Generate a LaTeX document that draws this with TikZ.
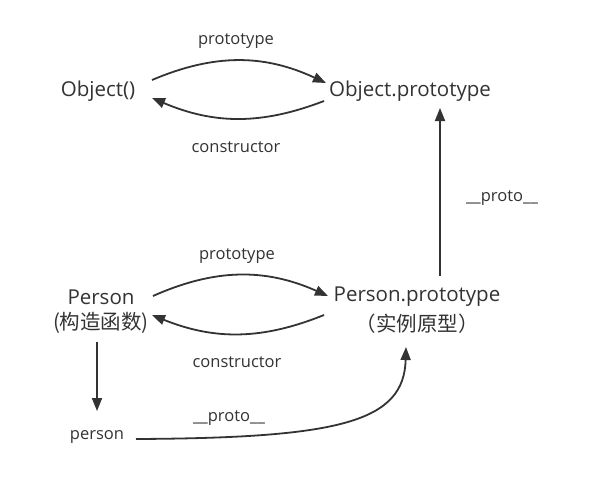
\documentclass[tikz,border=0pt]{standalone}
\usepackage{fontspec}
\setmainfont{Open Sans}
\newfontfamily\cjk{Noto Sans CJK SC}
\usetikzlibrary{arrows.meta}
\definecolor{ink}{HTML}{333333}
\tikzset{
  big/.style={font=\fontsize{20.5}{24}\selectfont, text=ink, inner sep=0pt, align=center},
  small/.style={font=\fontsize{16.5}{19}\selectfont, text=ink, inner sep=0pt},
  link/.style={draw=ink, line width=1.8pt, -{Triangle[length=13pt,width=10pt]}},
}
\begin{document}
\begin{tikzpicture}[x=1pt,y=-1pt]
\useasboundingbox[fill=white] (0,0) rectangle (590,477);

% top pair: Object and its prototype
\node[big] (obj) at (98,91) {Object()};
\node[big] (objp) at (410,91) {Object.prototype};
\node[small] (lp1) at (236,41) {prototype};
\node[small] (lc1) at (236,147) {constructor};

% lower pair: Person and its prototype
\node[big] (per) at (101,297) {Person};
\node[big] (perc) at (101,323) {\cjk (构造函数)};
\node[big] (perp) at (417,297) {Person.prototype};
\node[big] (perpc) at (417,324) {\cjk （实例原型）};
\node[small] (lp2) at (237,256) {prototype};
\node[small] (lc2) at (237,362) {constructor};

% instance and __proto__ labels
\node[small] (inst) at (97,437) {person};
\node[small] (lpr1) at (502,198) {\_\_proto\_\_};
\node[small] (lpr2) at (229,418) {\_\_proto\_\_};

% connector ends
\coordinate (objR)   at (152,80);
\coordinate (objpL)  at (326,83);
\coordinate (objpL2) at (324,101);
\coordinate (objR2)  at (152,98);
\coordinate (perR)   at (153,296);
\coordinate (perpL)  at (328,296);
\coordinate (perpL2) at (324,315);
\coordinate (perR2)  at (152,315);
\coordinate (objpB)  at (440,108);
\coordinate (perpT)  at (440,276);
\coordinate (perB)   at (97,342);
\coordinate (instT)  at (97,411);
\coordinate (instR)  at (136,439);
\coordinate (perpB)  at (406,347);

% prototype / constructor links
\draw[link] (objR) to[bend left=24] (objpL);
\draw[link] (objpL2) to[bend left=22] (objR2);
\draw[link] (perR) to[bend left=24] (perpL);
\draw[link] (perpL2) to[bend left=22] (perR2);

% __proto__ chain
\draw[link] (perpT) -- (objpB);
\draw[link] (perB) -- (instT);
\draw[link] (instR) .. controls (340,438) and (404,422) .. (perpB);
\end{tikzpicture}
\end{document}
